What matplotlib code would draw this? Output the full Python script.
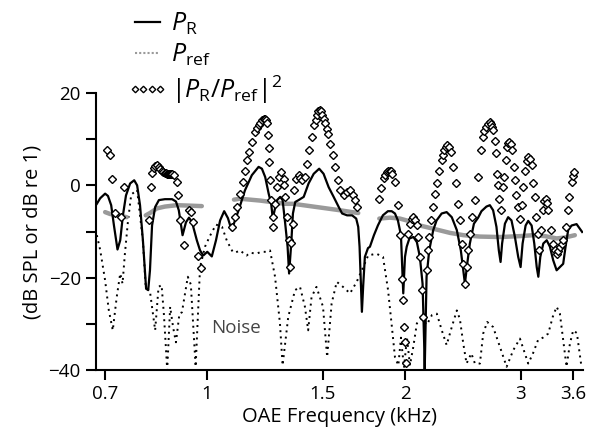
import matplotlib
matplotlib.use('Agg')
import matplotlib.pyplot as plt
from matplotlib.lines import Line2D
import numpy as np

plt.rcParams['font.family'] = ['Open Sans', 'DejaVu Sans']
plt.rcParams['mathtext.fontset'] = 'custom'
plt.rcParams['mathtext.rm'] = 'Open Sans'
plt.rcParams['mathtext.it'] = 'Open Sans:italic'

#%% data (kHz, dB)

# P_R, emission
pr_f = [0.680, 0.688, 0.700, 0.707, 0.715, 0.722, 0.731, 0.738, 0.745, 0.753,
        0.764, 0.775, 0.783, 0.791, 0.799, 0.808, 0.814, 0.819, 0.825, 0.834,
        0.845, 0.863, 0.885, 0.897, 0.906, 0.918, 0.929, 0.939, 0.949, 0.965,
        0.976, 0.987, 1.001, 1.017, 1.032, 1.047, 1.062, 1.076, 1.090, 1.117,
        1.142, 1.170, 1.198, 1.212, 1.226, 1.241, 1.252, 1.259, 1.267, 1.278,
        1.292, 1.303, 1.315, 1.326, 1.333, 1.343, 1.351, 1.362, 1.378, 1.403,
        1.427, 1.453, 1.481, 1.504, 1.531, 1.558, 1.586, 1.605, 1.633, 1.662,
        1.686, 1.698, 1.706, 1.720, 1.728, 1.738, 1.757, 1.769, 1.794, 1.819,
        1.851, 1.884, 1.909, 1.931, 1.951, 1.972, 1.988, 2.000, 2.012, 2.031,
        2.060, 2.085, 2.107, 2.127, 2.139, 2.143, 2.157, 2.177, 2.208, 2.234,
        2.274, 2.314, 2.356, 2.398, 2.432, 2.460, 2.467, 2.487, 2.510, 2.546,
        2.584, 2.614, 2.660, 2.692, 2.723, 2.755, 2.778, 2.795, 2.810, 2.838,
        2.870, 2.904, 2.939, 2.973, 2.998, 3.019, 3.051, 3.079, 3.116, 3.145,
        3.172, 3.190, 3.212, 3.246, 3.285, 3.322, 3.360, 3.401, 3.440, 3.480,
        3.509, 3.541, 3.584, 3.647, 3.689, 3.719]
pr_db = [-4.0, -2.8, -1.8, -2.3, -4.3, -8.7, -13.9, -11.9, -6.5, -2.2,
         0.4, 1.1, 0.0, -4.3, -11.9, -22.4, -22.7, -18.4, -8.7, -4.7,
         -3.2, -3.0, -3.0, -3.5, -5.4, -10.8, -8.0, -7.0, -8.0, -11.9,
         -14.1, -15.2, -14.4, -15.4, -11.9, -7.6, -5.6, -7.1, -9.7, -5.4,
         -1.1, 2.2, 4.0, 3.6, 1.8, -1.8, -4.0, -7.2, -5.4, -3.2,
         -2.5, -3.2, -8.3, -13.3, -19.1, -12.6, -6.1, -3.6, -3.2, -2.5,
         0.4, 2.5, 3.6, 2.5, -0.4, -2.5, -4.7, -6.1, -6.5, -6.5,
         -7.2, -9.0, -13.3, -27.4, -21.6, -15.5, -13.6, -13.3, -10.8, -8.7,
         -6.5, -5.6, -5.6, -6.1, -7.6, -10.8, -23.4, -15.5, -13.3, -11.5,
         -11.2, -12.3, -15.5, -21.3, -34.3, -40.0, -19.8, -14.1, -9.7, -7.6,
         -6.1, -5.8, -6.9, -9.7, -14.1, -19.8, -21.3, -17.0, -12.6, -8.3,
         -7.0, -5.6, -4.6, -4.3, -5.4, -9.0, -14.1, -16.6, -12.6, -8.3,
         -6.9, -7.6, -11.2, -15.5, -17.7, -12.6, -8.7, -7.7, -8.7, -12.6,
         -17.7, -19.8, -15.5, -12.6, -11.9, -13.3, -16.2, -18.4, -17.7, -17.0,
         -13.3, -9.7, -8.7, -8.4, -9.4, -10.1]

# P_ref, reference (gaps where not measured)
pref_f = [0.700, 0.712, 0.725, 0.738, 0.755, np.nan,
          0.807, 0.819, 0.839, 0.863, 0.900, 0.942, 0.982, np.nan,
          1.099, 1.122, 1.204, 1.314, 1.352, 1.485, 1.593, 1.698, np.nan,
          1.828, 1.897, 1.965, 2.035, 2.107, 2.208, 2.341, 2.455, 2.600,
          2.789, 2.991, 3.134, 3.264, 3.401, 3.501, 3.625]
pref_db = [-5.8, -6.2, -6.4, -6.6, -6.9, np.nan,
           -6.5, -6.0, -5.0, -4.6, -4.3, -4.4, -4.5, np.nan,
           -3.1, -2.9, -3.3, -4.0, -4.0, -4.8, -5.4, -6.0, np.nan,
           -7.2, -7.0, -7.2, -7.8, -8.7, -9.4, -10.3, -10.8, -11.1,
           -11.2, -11.0, -10.8, -11.0, -11.5, -11.3, -10.8]

# |P_R/P_ref|^2
ratio_f = [0.705, 0.712, 0.718, 0.725, 0.741, 0.747,
           0.817, 0.821, 0.826, 0.831, 0.835, 0.839, 0.844, 0.848, 0.853, 0.858,
           0.862, 0.866, 0.870, 0.873, 0.876, 0.879, 0.883, 0.886, 0.891, 0.900,
           0.905, 0.910, 0.924, 0.939, 0.945, 0.951, 0.970, 0.978,
           1.091, 1.102, 1.111, 1.124, 1.133, 1.141, 1.150, 1.159, 1.170, 1.184,
           1.191, 1.198, 1.205, 1.212, 1.219, 1.226, 1.230, 1.234, 1.240, 1.242,
           1.244, 1.248, 1.252, 1.258, 1.261, 1.270, 1.278, 1.285, 1.297, 1.308,
           1.311, 1.315, 1.323, 1.331, 1.338, 1.344, 1.350, 1.357, 1.367, 1.378,
           1.387, 1.394, 1.407, 1.419, 1.430, 1.444, 1.456, 1.463, 1.470, 1.476,
           1.483, 1.490, 1.498, 1.505, 1.513, 1.520, 1.527, 1.539, 1.554, 1.566,
           1.581, 1.594, 1.614, 1.633, 1.652, 1.666, 1.681, 1.691,
           1.823, 1.840, 1.858, 1.868, 1.877, 1.887, 1.897, 1.905, 1.914, 1.931,
           1.954, 1.965, 1.976, 1.987, 1.994, 1.999, 2.006, 2.022, 2.035, 2.047,
           2.059, 2.072, 2.084, 2.096, 2.107, 2.120, 2.132, 2.157, 2.170, 2.177,
           2.188, 2.204, 2.221, 2.234, 2.255, 2.275, 2.284, 2.293, 2.305, 2.320,
           2.335, 2.350, 2.369, 2.392, 2.411, 2.424, 2.438, 2.453, 2.467, 2.481,
           2.495, 2.510, 2.533, 2.555, 2.584, 2.609, 2.630, 2.642, 2.655, 2.670,
           2.692, 2.705, 2.715, 2.723, 2.740, 2.750, 2.762, 2.771, 2.778, 2.804,
           2.820, 2.830, 2.844, 2.860, 2.870, 2.880, 2.895, 2.910, 2.930, 2.944,
           2.955, 2.972, 2.991, 3.009, 3.027, 3.044, 3.062, 3.080, 3.100, 3.117,
           3.134, 3.152, 3.164, 3.183, 3.201, 3.220, 3.238, 3.256, 3.273, 3.288,
           3.303, 3.333, 3.360, 3.380, 3.401, 3.420, 3.440, 3.460, 3.480, 3.509,
           3.535, 3.555, 3.584, 3.600, 3.617]
ratio_db = [7.7, 6.5, 1.4, -6.0, -6.9, -0.4,
            -7.6, -0.4, 2.7, 3.8, 4.2, 4.3, 4.0, 3.6, 3.2, 2.9,
            2.7, 2.6, 2.5, 2.5, 2.4, 2.4, 2.5, 2.5, 2.3, 0.7,
            -2.2, -7.6, -13.0, -5.4, -5.8, -7.9, -15.2, -17.8,
            -9.0, -6.9, -4.7, -1.8, 0.7, 3.2, 5.4, 7.2, 9.4, 11.5,
            12.4, 13.0, 13.6, 14.1, 14.3, 14.4, 14.2, 13.5, 11.0, 8.0,
            5.0, 1.1, -3.2, -6.9, -9.0, -4.0, -0.4, 1.8, 2.9, 1.4,
            0.0, -2.5, -6.9, -11.9, -17.7, -12.5, -8.3, -1.1, 1.4, 2.2,
            1.6, 1.1, 1.8, 4.7, 7.6, 10.5, 13.0, 14.2, 15.2, 16.0,
            16.4, 16.0, 15.2, 14.4, 13.4, 12.3, 11.2, 9.0, 6.5, 4.0,
            1.1, -1.1, -2.2, -1.4, -1.1, -2.2, -3.2, -4.7,
            -2.9, -0.5, 1.5, 2.3, 2.8, 3.1, 3.2, 3.0, 2.5, 0.8,
            -4.3, -10.8, -20.2, -24.9, -30.7, -34.0, -38.5, -10.5, -8.3, -7.3,
            -6.9, -7.5, -8.7, -11.2, -15.5, -22.7, -28.5, -18.4, -14.1, -11.2,
            -7.6, -4.7, -1.8, 0.4, 3.2, 5.4, 6.6, 7.6, 8.3, 8.7,
            8.2, 7.2, 4.0, 0.4, -4.0, -7.6, -12.6, -17.0, -21.3, -17.7,
            -14.1, -10.5, -6.9, -3.2, 1.8, 7.6, 10.5, 11.7, 12.6, 13.3,
            13.7, 13.2, 12.6, 11.9, 9.7, 6.9, 2.5, 0.0, -2.9, -5.4,
            -0.4, 1.8, 5.4, 8.3, 9.1, 9.4, 8.9, 7.6, 4.0, 1.1,
            -2.2, -4.7, -7.2, -4.3, -0.4, 3.2, 5.3, 6.1, 5.6, 4.3,
            0.4, -2.5, -6.9, -10.5, -14.1, -9.7, -5.4, -3.5, -2.9, -3.8,
            -5.4, -9.7, -12.6, -14.0, -14.8, -14.3, -13.3, -12.6, -11.9, -9.0,
            -5.4, -2.5, 0.7, 2.0, 2.9]

# noise floor
noise_f = [0.680, 0.688, 0.700, 0.709, 0.719, 0.729, 0.738, 0.744, 0.750, 0.758,
           0.767, 0.783, 0.799, 0.807, 0.819, 0.834, 0.844, 0.853, 0.860, 0.870,
           0.879, 0.888, 0.897, 0.908, 0.916, 0.935, 0.945, 0.961, 0.976, 0.993,
           1.010, 1.032, 1.054, 1.072, 1.084, 1.095, 1.107, 1.122, 1.149, 1.162,
           1.190, 1.208, 1.232, 1.247, 1.269, 1.291, 1.303, 1.329, 1.361, 1.385,
           1.409, 1.425, 1.442, 1.467, 1.501, 1.523, 1.547, 1.575, 1.610, 1.650,
           1.689, 1.728, 1.758, 1.809, 1.852, 1.885, 1.908, 1.931, 1.954, 1.972,
           1.993, 2.014, 2.035, 2.059, 2.085, 2.122, 2.159, 2.198, 2.236, 2.275,
           2.314, 2.356, 2.398, 2.424, 2.453, 2.481, 2.523, 2.555, 2.600, 2.630,
           2.667, 2.723, 2.789, 2.855, 2.922, 2.991, 3.043, 3.079, 3.129, 3.187,
           3.241, 3.303, 3.355, 3.401, 3.440, 3.480, 3.521, 3.563, 3.604, 3.651,
           3.710]
noise_db = [-10.8, -14.0, -20.6, -27.0, -31.4, -24.2, -19.1, -21.3, -15.0, -8.0,
            -2.0, -1.0, -12.0, -22.0, -23.0, -31.4, -22.0, -21.6, -28.0, -40.0,
            -26.3, -30.7, -34.0, -27.8, -27.5, -19.8, -21.5, -39.3, -17.7, -13.3,
            -11.0, -8.5, -9.0, -12.0, -13.3, -14.5, -14.5, -14.1, -15.2, -14.6,
            -14.8, -14.4, -14.4, -14.1, -19.8, -29.9, -39.0, -28.5, -22.7, -22.0,
            -26.3, -31.4, -24.2, -22.0, -26.3, -37.2, -25.6, -20.9, -22.0, -23.4,
            -20.9, -17.7, -15.2, -14.8, -15.5, -22.7, -29.9, -37.2, -39.0, -33.0,
            -39.5, -33.0, -39.0, -35.0, -29.9, -28.9, -30.2, -28.1, -27.8, -31.4,
            -34.6, -30.7, -27.1, -29.0, -34.3, -38.6, -36.4, -38.6, -38.6, -32.1,
            -29.6, -30.7, -35.0, -39.3, -35.7, -33.2, -36.4, -38.6, -36.5, -33.5,
            -33.0, -32.1, -28.5, -26.3, -27.8, -33.5, -39.3, -34.3, -31.4, -32.0,
            -39.3]

xticks = [0.7, 1, 1.5, 2, 3, 3.6]
xtick_labels = ['0.7', '1', '1.5', '2', '3', '3.6']
yticks = [-40, -30, -20, -10, 0, 10, 20]
ytick_labels = ['\u221240', '', '\u221220', '', '0', '', '20']

#%% plot

fig = plt.figure(figsize=(5.9, 4.44), dpi=100)
ax = fig.add_axes([96/590, 74/444, 487/590, 277/444])

ax.plot(noise_f, noise_db, color='k', lw=1.4, ls=(0, (1, 2.2)))
ax.plot(pref_f, pref_db, color='#9a9a9a', lw=3.2, solid_capstyle='round')
ax.plot(pr_f, pr_db, color='k', lw=1.6)
ax.plot(ratio_f, ratio_db, ls='none', marker='D', ms=3.6, mfc='white',
        mec='k', mew=1.0)

ax.text(1.105, -31, 'Noise', color='#444444', fontsize=13.5,
        ha='center', va='center')

ax.set_xscale('log')
ax.set_xlim(0.678, 3.73)
ax.set_ylim(-40, 20)
ax.set_xticks(xticks)
ax.set_xticklabels(xtick_labels)
ax.xaxis.set_minor_locator(matplotlib.ticker.NullLocator())
ax.set_yticks(yticks)
ax.set_yticklabels(ytick_labels)

for s in ['top', 'right']:
    ax.spines[s].set_visible(False)
for s in ['left', 'bottom']:
    ax.spines[s].set_linewidth(1.5)
ax.tick_params(direction='out', length=7, width=1.5, labelsize=13.5, pad=4)

ax.set_xlabel('OAE Frequency (kHz)', fontsize=14.5, labelpad=3)
ax.set_ylabel('(dB SPL or dB re 1)', fontsize=14.5, labelpad=4)

handles = [Line2D([], [], color='k', lw=1.6),
           Line2D([], [], color='#9a9a9a', lw=1.5, ls=(0, (1, 1))),
           Line2D([], [], ls='none', marker='D', ms=3.3, mfc='white',
                  mec='k', mew=1.0)]
labels = [r'$P_{\mathrm{R}}$', r'$P_{\mathrm{ref}}$',
          r'|$P_{\mathrm{R}}$/$P_{\mathrm{ref}}$|$^2$']
fig.legend(handles, labels, loc='upper left', bbox_to_anchor=(110/590, 1.015),
           frameon=False, fontsize=18, numpoints=4, handlelength=1.6,
           handletextpad=0.15, labelspacing=0.2, borderpad=0.2)

plt.savefig('out.png', dpi=100)
